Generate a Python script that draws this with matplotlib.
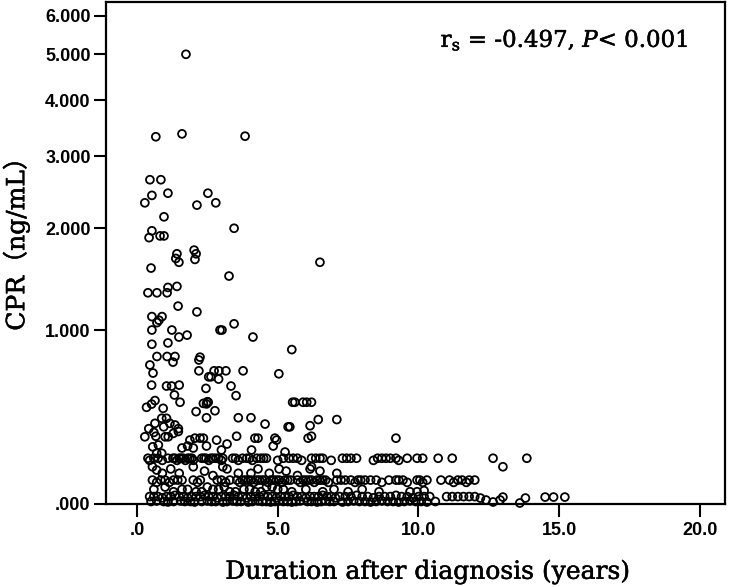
import numpy as np
import matplotlib
matplotlib.use("Agg")
import matplotlib.pyplot as plt
import matplotlib.patheffects as pe

# ---------------- data ----------------
dur_upper = [1.74, 0.67, 1.6, 3.84, 0.46, 0.85, 0.53, 1.1, 2.52, 0.28, 2.13, 2.8, 0.96, 3.45,
             0.53, 0.43, 0.82, 0.96, 1.42, 1.38, 1.49, 2.03, 2.1, 2.06, 0.5, 3.27, 6.5,
             0.39, 0.71, 1.07, 1.1, 1.42, 1.46, 2.13, 0.53, 0.78, 0.89, 0.71, 3.45,
             0.53, 1.24, 2.95, 3.02, 1.49, 1.78, 4.12, 0.53, 1.1, 5.5,
             0.71, 1.07, 1.35, 2.24, 2.2, 0.46, 1.28,
             0.57, 2.2, 2.74, 2.91, 3.16, 3.77, 5.04, 2.63, 2.55, 2.9]
cpr_upper = [5.0, 3.32, 3.37, 3.33, 2.64, 2.64, 2.42, 2.45, 2.45, 2.32, 2.29, 2.32, 2.14, 2.0,
             1.97, 1.89, 1.91, 1.91, 1.71, 1.66, 1.62, 1.75, 1.71, 1.65, 1.56, 1.48, 1.62,
             1.32, 1.32, 1.32, 1.37, 1.38, 1.2, 1.15, 1.11, 1.08, 1.11, 1.06, 1.05,
             1.0, 1.0, 1.0, 1.0, 0.945, 0.96, 0.945, 0.89, 0.9, 0.85,
             0.8, 0.8, 0.8, 0.795, 0.775, 0.74, 0.76,
             0.685, 0.7, 0.7, 0.7, 0.7, 0.7, 0.68, 0.66, 0.66, 0.645]

dur_mid = [0.52, 1.05, 1.23, 1.5, 1.33, 1.53, 2.45, 0.34, 0.52, 0.64, 0.93, 2.1, 2.36, 2.5,
           0.64, 0.88, 1.05, 1.17, 1.35, 1.47, 1.47, 1.29, 1.11, 1.0, 0.28, 0.67, 0.76,
           1.88, 2.06, 2.24, 2.36, 0.56, 0.7, 0.88,
           2.53, 2.47, 2.77, 2.47, 3.34, 3.52, 5.53, 3.6, 4.05, 4.55, 5.37, 3.54, 4.19, 4.3,
           4.9, 4.96, 4.84, 2.83, 2.47, 4.07, 5.26,
           5.61, 5.9, 6.03, 6.2, 6.44, 6.15, 7.1, 6.08, 6.2, 5.43, 9.2,
           0.42, 0.6, 1.8, 2.0, 3.0, 3.2, 1.6, 0.95]
cpr_mid = [0.606, 0.6, 0.6, 0.606, 0.544, 0.5, 0.585, 0.47, 0.489, 0.51, 0.464, 0.445, 0.493, 0.503,
           0.379, 0.407, 0.407, 0.379, 0.37, 0.35, 0.335, 0.325, 0.307, 0.307, 0.307, 0.31, 0.265,
           0.29, 0.3, 0.3, 0.3, 0.256, 0.224, 0.224,
           0.5, 0.49, 0.45, 0.41, 0.6, 0.54, 0.5, 0.41, 0.41, 0.375, 0.36, 0.31, 0.3, 0.3,
           0.3, 0.29, 0.26, 0.29, 0.26, 0.24, 0.23,
           0.5, 0.5, 0.5, 0.5, 0.4, 0.366, 0.4, 0.3, 0.31, 0.36, 0.3,
           0.35, 0.33, 0.26, 0.25, 0.24, 0.27, 0.25, 0.36]

dur_b20 = [0.39, 0.45, 0.6, 0.75, 0.9, 1.1, 1.28, 1.35, 1.42, 1.5, 1.57, 1.64, 1.72, 1.8, 1.88,
           1.95, 2.0, 2.3, 2.38, 2.45, 2.55, 2.62, 2.7, 2.8, 2.9, 3.0, 3.05, 3.4, 3.5, 3.6,
           3.75, 3.9, 4.0, 4.1, 4.26, 4.4, 4.5, 4.6, 5.0, 5.2, 5.4, 5.55, 5.7, 5.85, 6.2,
           6.35, 6.5, 6.6, 6.9, 7.3, 7.45, 7.6, 7.8, 8.4, 8.55, 8.7, 8.85, 9.0, 9.2, 9.3,
           9.6, 9.95, 10.15, 10.7, 11.2, 12.65, 13.0, 13.85]
cpr_b20 = [0.2, 0.19, 0.2, 0.2, 0.19, 0.2, 0.2, 0.2, 0.19, 0.2, 0.2, 0.2, 0.19, 0.2, 0.2,
           0.2, 0.19, 0.2, 0.2, 0.2, 0.19, 0.2, 0.2, 0.2, 0.2, 0.19, 0.2, 0.2, 0.2, 0.19,
           0.2, 0.2, 0.2, 0.19, 0.2, 0.2, 0.2, 0.2, 0.19, 0.2, 0.2, 0.2, 0.2, 0.19, 0.2,
           0.2, 0.2, 0.2, 0.19, 0.2, 0.2, 0.2, 0.2, 0.19, 0.2, 0.2, 0.2, 0.2, 0.2, 0.19,
           0.2, 0.2, 0.2, 0.2, 0.2, 0.2, 0.16, 0.2]

dur_b15 = [0.55, 0.7, 0.9, 1.2, 1.5, 2.0, 2.4, 2.7, 3.2, 3.6, 4.05, 4.7, 5.05, 5.3, 5.7,
           6.15, 6.5, 6.2, 7.1, 4.3, 3.05]
cpr_b15 = [0.16, 0.145, 0.13, 0.15, 0.13, 0.16, 0.14, 0.12, 0.15, 0.13, 0.13, 0.13, 0.15, 0.14, 0.12,
           0.15, 0.14, 0.16, 0.13, 0.15, 0.16]

dur_b10 = [0.55, 0.7, 0.85, 1.0, 1.15, 1.3, 1.45, 1.6, 2.0, 2.15, 2.25, 2.85, 3.0, 3.15, 3.3,
           3.55, 3.65, 3.75, 3.85, 3.95, 4.05, 4.15, 4.25, 4.35, 4.45, 4.55, 4.65, 4.75, 4.85,
           4.95, 5.05, 5.15, 5.25, 5.35, 5.45, 5.7, 5.8, 5.9, 6.0, 6.1, 6.2, 6.3, 6.4, 6.5,
           6.6, 6.7, 6.8, 7.1, 7.25, 7.4, 7.6, 7.75, 7.85, 7.95, 8.1, 8.3, 8.5, 8.7, 8.95,
           9.2, 9.3, 9.45, 9.6, 9.95, 10.05, 10.15, 10.3, 10.8, 11.1, 11.25, 11.4, 11.55,
           11.7, 11.8, 12.0]
cpr_b10 = [0.1, 0.09, 0.1, 0.1, 0.09, 0.1, 0.1, 0.1, 0.1, 0.09, 0.1, 0.1, 0.1, 0.09, 0.1,
           0.1, 0.09, 0.1, 0.1, 0.1, 0.1, 0.09, 0.1, 0.1, 0.1, 0.1, 0.09, 0.1, 0.1,
           0.1, 0.1, 0.09, 0.1, 0.1, 0.1, 0.1, 0.09, 0.1, 0.1, 0.1, 0.1, 0.09, 0.1, 0.1,
           0.1, 0.1, 0.09, 0.1, 0.1, 0.1, 0.1, 0.09, 0.1, 0.1, 0.1, 0.1, 0.1, 0.09, 0.1,
           0.1, 0.1, 0.1, 0.09, 0.1, 0.1, 0.09, 0.1, 0.1, 0.1, 0.09, 0.1, 0.1,
           0.09, 0.1, 0.1]

dur_b05 = [0.6, 1.0, 1.3, 1.8, 2.1, 2.5, 2.9, 3.3, 3.8, 4.2, 4.6, 5.0, 5.5, 6.0, 6.6, 7.0,
           7.5, 8.0, 8.6, 9.7, 9.95, 10.2, 1.6, 2.3, 2.7, 3.1, 3.5, 4.0, 4.4, 4.8, 5.2]
cpr_b05 = [0.06, 0.07, 0.05, 0.06, 0.05, 0.07, 0.06, 0.05, 0.06, 0.05, 0.07, 0.06, 0.05, 0.06,
           0.05, 0.06, 0.05, 0.06, 0.05, 0.05, 0.05, 0.055, 0.06, 0.05, 0.06, 0.07, 0.05,
           0.06, 0.05, 0.07, 0.06]

dur_b03 = [0.45, 0.6, 0.75, 0.9, 1.05, 1.2, 1.35, 1.5, 1.65, 1.8, 1.95, 2.1, 2.25, 2.4, 2.55,
           2.7, 2.85, 3.0, 3.15, 3.3, 3.45, 3.6, 3.75, 3.9, 4.05, 4.2, 4.35, 4.5, 4.65, 4.8,
           4.95, 5.1, 5.25, 5.4, 5.55, 5.7, 5.85, 6.0, 6.15, 6.3, 6.45, 6.6, 6.75, 6.9, 7.05,
           7.2, 7.4, 7.6, 7.8, 8.0, 8.2, 8.4, 8.6, 8.8, 9.0, 9.2, 9.4, 9.6, 9.8, 10.0, 10.2,
           10.4, 11.0, 11.2, 11.4, 11.6, 11.8, 12.0, 12.2, 12.9, 13.0, 13.8, 14.5, 14.8, 15.2]
cpr_b03 = [0.03, 0.03, 0.03, 0.025, 0.03, 0.03, 0.035, 0.03, 0.03, 0.025, 0.03, 0.03, 0.03, 0.035, 0.03,
           0.03, 0.025, 0.03, 0.03, 0.03, 0.035, 0.03, 0.03, 0.025, 0.03, 0.03, 0.03, 0.035, 0.03, 0.03,
           0.025, 0.03, 0.03, 0.03, 0.035, 0.03, 0.03, 0.025, 0.03, 0.03, 0.03, 0.035, 0.03, 0.03, 0.025,
           0.03, 0.03, 0.03, 0.035, 0.03, 0.03, 0.025, 0.03, 0.03, 0.03, 0.035, 0.03, 0.03, 0.025, 0.03,
           0.03, 0.03, 0.03, 0.03, 0.03, 0.03, 0.03, 0.03, 0.024, 0.016, 0.028, 0.024, 0.028, 0.028, 0.028]

dur_b01 = [0.5, 0.7, 0.95, 1.1, 1.3, 1.55, 1.7, 1.9, 2.05, 2.3, 2.5, 2.65, 2.8, 3.05, 3.2, 3.4,
           3.55, 3.7, 3.95, 4.1, 4.3, 4.45, 4.6, 4.75, 4.9, 5.05, 5.2, 5.35, 5.5, 5.65, 5.8,
           6.05, 6.2, 6.4, 6.55, 6.7, 6.85, 7.0, 7.3, 7.5, 7.7, 7.9, 8.1, 8.3, 8.5, 8.7, 8.9,
           9.1, 9.3, 9.5, 9.7, 9.9, 10.1, 10.3, 10.6, 12.4, 12.65, 13.6]
cpr_b01 = [0.01, 0.012, 0.01, 0.008, 0.01, 0.012, 0.01, 0.01, 0.008, 0.01, 0.012, 0.01, 0.01, 0.008,
           0.01, 0.012, 0.01, 0.01, 0.008, 0.01, 0.012, 0.01, 0.01, 0.008, 0.01, 0.012, 0.01, 0.01,
           0.008, 0.01, 0.012, 0.01, 0.01, 0.008, 0.01, 0.012, 0.01, 0.01, 0.008, 0.01, 0.012, 0.01,
           0.01, 0.008, 0.01, 0.012, 0.01, 0.01, 0.008, 0.01, 0.012, 0.01, 0.01, 0.008, 0.01,
           0.016, 0.008, 0.004]

x_ticks = [0, 5, 10, 15, 20]
x_tick_labels = [".0", "5.0", "10.0", "15.0", "20.0"]
y_ticks = [0, 1, 2, 3, 4, 5, 6]
y_tick_labels = [".000", "1.000", "2.000", "3.000", "4.000", "5.000", "6.000"]

duration = np.concatenate([dur_upper, dur_mid, dur_b20, dur_b15, dur_b10, dur_b05, dur_b03, dur_b01])
cpr = np.concatenate([cpr_upper, cpr_mid, cpr_b20, cpr_b15, cpr_b10, cpr_b05, cpr_b03, cpr_b01])

# ---------------- figure ----------------
W, H = 734, 587
fig = plt.figure(figsize=(W / 100, H / 100), dpi=100)
ax = fig.add_axes([106 / W, 1 - 504 / H, (725 - 106) / W, (504 - 2) / H])

ax.set_yscale("function", functions=(lambda y: np.log1p(np.maximum(y, -0.99)),
                                     lambda y: np.expm1(y)))
ax.scatter(duration, cpr, s=32, facecolors="none", edgecolors="black",
           linewidths=1.3, clip_on=False, zorder=3)

ax.set_xlim(-1.1, 20.89)
ax.set_ylim(0, 6.39)
ax.set_xticks(x_ticks)
ax.set_xticklabels(x_tick_labels)
ax.set_yticks(y_ticks)
ax.set_yticklabels(y_tick_labels)
ax.minorticks_off()

for s in ax.spines.values():
    s.set_linewidth(1.6)
    s.set_color("black")
ax.tick_params(direction="out", length=9, width=1.5, colors="black")
ax.tick_params(axis="y", pad=2)
ax.tick_params(axis="x", pad=4)
for lab in ax.get_xticklabels() + ax.get_yticklabels():
    lab.set_fontfamily("Liberation Sans")
    lab.set_fontweight("bold")
    lab.set_fontsize(13)

thick = [pe.withStroke(linewidth=0.35, foreground="black")]
plt.rcParams["mathtext.fontset"] = "dejavuserif"
fig.text(428 / W, 1 - 572 / H, "Duration after diagnosis (years)", family="DejaVu Serif",
         fontsize=18, ha="center", va="center", path_effects=thick)
fig.text(16 / W, 1 - 238 / H, "CPR（ng/mL）", family=["DejaVu Serif", "Noto Sans CJK JP"],
         fontsize=18, ha="center", va="center", rotation=90, path_effects=thick)
fig.text(688 / W, 1 - 47 / H, r"r$_\mathregular{s}$ = -0.497, $\mathit{P}$< 0.001",
         family="DejaVu Serif", fontsize=16.5, ha="right", va="baseline", path_effects=thick)

fig.savefig("out.png", dpi=100)
